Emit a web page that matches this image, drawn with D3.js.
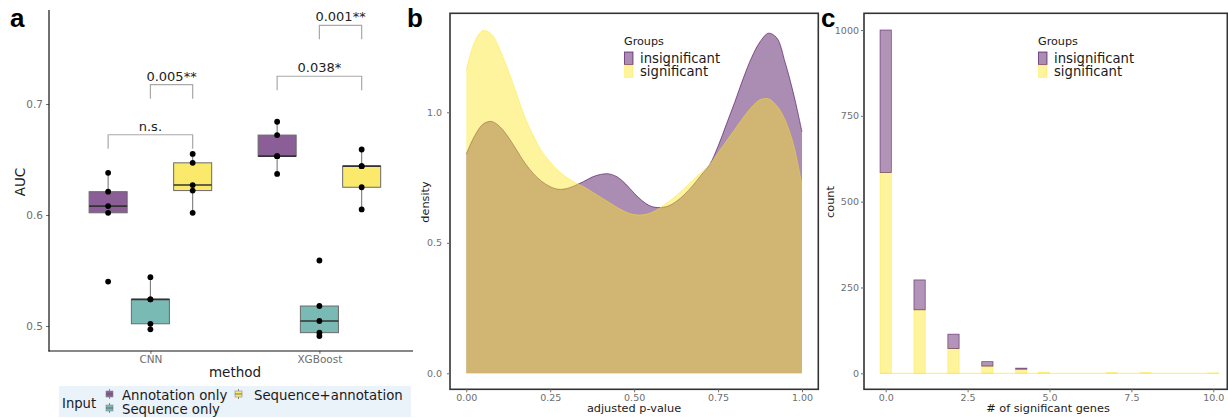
<!DOCTYPE html>
<html><head><meta charset="utf-8">
<script src="https://cdn.jsdelivr.net/npm/d3@7"></script>
<style>
body{margin:0;background:#fff}
svg{display:block}
text{font-family:"DejaVu Sans",sans-serif}
</style>
</head><body>
<svg id="chart" width="1228" height="418"></svg>
<script>
// ================= DATA =================
// Panel a: AUC box plots
const methods = ["CNN", "XGBoost"];
const inputs = ["Annotation only", "Sequence only", "Sequence+annotation"];
const aucCNNAnnotation = [0.540, 0.602, 0.608, 0.621, 0.638];
const aucCNNSequence = [0.497, 0.502, 0.524, 0.524, 0.544];
const aucCNNSeqAnnot = [0.602, 0.622, 0.627, 0.647, 0.655];
const aucXGBAnnotation = [0.637, 0.653, 0.653, 0.672, 0.684];
const aucXGBSequence = [0.491, 0.494, 0.5045, 0.518, 0.559];
const aucXGBSeqAnnot = [0.605, 0.625, 0.644, 0.644, 0.659];
const aucTicks = [0.5, 0.6, 0.7];
// significance brackets
const sigLabels = ["n.s.", "0.005**", "0.038*", "0.001**"];
const sigMethod = ["CNN", "CNN", "XGBoost", "XGBoost"];
const sigFrom = ["Annotation only", "Sequence only", "Annotation only", "Sequence only"];
const sigTo = ["Sequence+annotation", "Sequence+annotation", "Sequence+annotation", "Sequence+annotation"];
const sigLevel = [0.6723, 0.7174, 0.725, 0.7709];

// Panel b: density of adjusted p-values
const pvalGrid = [0, 0.025, 0.05, 0.075, 0.1, 0.125, 0.15, 0.175, 0.2, 0.225, 0.25, 0.275, 0.3, 0.325, 0.35, 0.375, 0.4, 0.425, 0.45, 0.475, 0.5, 0.525, 0.55, 0.575, 0.6, 0.625, 0.65, 0.675, 0.7, 0.725, 0.75, 0.775, 0.8, 0.825, 0.85, 0.875, 0.9, 0.925, 0.95, 0.975, 1];
const densityInsignificant = [0.84, 0.91, 0.955, 0.965, 0.945, 0.905, 0.855, 0.805, 0.765, 0.735, 0.715, 0.705, 0.708, 0.72, 0.735, 0.752, 0.762, 0.764, 0.752, 0.725, 0.69, 0.66, 0.64, 0.635, 0.64, 0.658, 0.685, 0.72, 0.76, 0.80, 0.87, 0.955, 1.04, 1.13, 1.21, 1.27, 1.303, 1.285, 1.19, 1.07, 0.925];
const densitySignificant = [1.16, 1.27, 1.313, 1.30, 1.24, 1.16, 1.07, 0.98, 0.91, 0.85, 0.81, 0.775, 0.75, 0.73, 0.715, 0.695, 0.675, 0.655, 0.635, 0.618, 0.608, 0.607, 0.615, 0.632, 0.655, 0.68, 0.71, 0.74, 0.77, 0.80, 0.845, 0.89, 0.935, 0.98, 1.02, 1.048, 1.052, 1.025, 0.97, 0.875, 0.72];
const densXTicks = [0, 0.25, 0.5, 0.75, 1];
const densYTicks = [0, 0.5, 1.0];

// Panel c: histogram of # significant genes
const geneNumbers = [0, 1, 2, 3, 4, 5, 6, 7, 8, 9, 10];
const countSignificant = [585, 185, 72, 21, 12, 3, 0, 2, 2, 0, 1];
const countInsignificant = [415, 87, 42, 13, 3, 0, 0, 0, 0, 0, 0];
const histXTicks = [0, 2.5, 5, 7.5, 10];
const histYTicks = [0, 250, 500, 750, 1000];
const groups = ["insignificant", "significant"];

// ================= DRAW =================
const svg = d3.select("#chart");
svg.append("rect").attr("width", 1228).attr("height", 418).attr("fill", "#fff");

const VIR_P = "#440154", VIR_T = "#21908C", VIR_Y = "#FDE725";
const boxFill = {"Annotation only": "#8b5e98", "Sequence only": "#79bab5", "Sequence+annotation": "#fbe96b"};
const TICK_COL = "#6e6e6e", TXT = "#1a1a1a";

function panelLetter(x, y, t) {
  svg.append("text").attr("x", x).attr("y", y).text(t)
    .style("font-family", "'Liberation Sans',Arial,sans-serif")
    .attr("font-weight", "bold").attr("font-size", 26).attr("fill", "#000");
}

// ---------- Panel a ----------
const gA = svg.append("g");
const xA = d3.scaleLinear().domain([0.4, 2.6]).range([49, 49 + 2.2 * 169]);
const methodPos = m => xA(methods.indexOf(m) + 1);
const dodge = d3.scaleBand().domain(inputs).range([-63.4, 63.4]);
const yA = d3.scaleLinear().domain([0.5, 0.7]).range([326, 104]);

const aucGroups = [
  {method: "CNN", input: "Annotation only", values: aucCNNAnnotation},
  {method: "CNN", input: "Sequence only", values: aucCNNSequence},
  {method: "CNN", input: "Sequence+annotation", values: aucCNNSeqAnnot},
  {method: "XGBoost", input: "Annotation only", values: aucXGBAnnotation},
  {method: "XGBoost", input: "Sequence only", values: aucXGBSequence},
  {method: "XGBoost", input: "Sequence+annotation", values: aucXGBSeqAnnot}
];
const cx = (m, inp) => methodPos(m) + dodge(inp) + dodge.bandwidth() / 2;
const boxW = dodge.bandwidth() * 0.9;

aucGroups.forEach(gr => {
  const v = gr.values.slice().sort(d3.ascending);
  const q1 = d3.quantile(v, 0.25), med = d3.quantile(v, 0.5), q3 = d3.quantile(v, 0.75);
  const iqr = q3 - q1;
  const lo = d3.min(v.filter(d => d >= q1 - 1.5 * iqr));
  const hi = d3.max(v.filter(d => d <= q3 + 1.5 * iqr));
  const c = cx(gr.method, gr.input);
  gA.append("line").attr("x1", c).attr("x2", c).attr("y1", yA(hi)).attr("y2", yA(q3))
    .attr("stroke", "#7a7a7a").attr("stroke-width", 1.1);
  gA.append("line").attr("x1", c).attr("x2", c).attr("y1", yA(q1)).attr("y2", yA(lo))
    .attr("stroke", "#7a7a7a").attr("stroke-width", 1.1);
  gA.append("rect").attr("x", c - boxW / 2).attr("y", yA(q3)).attr("width", boxW)
    .attr("height", Math.max(0.5, yA(q1) - yA(q3)))
    .attr("fill", boxFill[gr.input]).attr("stroke", "#6a6a6a").attr("stroke-width", 1);
  gA.append("line").attr("x1", c - boxW / 2).attr("x2", c + boxW / 2).attr("y1", yA(med)).attr("y2", yA(med))
    .attr("stroke", "#333").attr("stroke-width", 1.6);
  gA.selectAll(null).data(gr.values).enter().append("circle")
    .attr("cx", c).attr("cy", d => yA(d)).attr("r", 2.9).attr("fill", "#000");
});

// brackets
sigLabels.forEach((lab, i) => {
  const x1 = cx(sigMethod[i], sigFrom[i]), x2 = cx(sigMethod[i], sigTo[i]);
  const yt = yA(sigLevel[i]), yb = yt + 14;
  gA.append("path").attr("d", `M${x1},${yb}V${yt}H${x2}V${yb}`)
    .attr("fill", "none").attr("stroke", "#a9a9a9").attr("stroke-width", 1.2);
  gA.append("text").attr("x", (x1 + x2) / 2).attr("y", yt - 4).attr("text-anchor", "middle")
    .attr("font-size", 13).attr("fill", "#222").text(lab);
});

// axes
const axYA = gA.append("g").attr("transform", "translate(49,0)")
  .call(d3.axisLeft(yA).tickValues(aucTicks).tickSize(3).tickPadding(3).tickFormat(d3.format(".1f")));
axYA.select(".domain").remove();
axYA.selectAll("line").attr("stroke", TICK_COL);
axYA.selectAll("text").attr("font-size", 10.5).attr("fill", TICK_COL).style("font-family", "'DejaVu Sans'");
const xAPoint = d3.scalePoint().domain(methods).range([methodPos("CNN"), methodPos("XGBoost")]);
const axXA = gA.append("g").attr("transform", "translate(0,351)")
  .call(d3.axisBottom(xAPoint).tickSize(3).tickPadding(2));
axXA.select(".domain").remove();
axXA.selectAll("line").attr("stroke", TICK_COL);
axXA.selectAll("text").attr("font-size", 10.5).attr("fill", TICK_COL).style("font-family", "'DejaVu Sans'");
gA.append("line").attr("x1", 49).attr("x2", 49).attr("y1", 10).attr("y2", 351.5).attr("stroke", "#111").attr("stroke-width", 1.2);
gA.append("line").attr("x1", 48.5).attr("x2", 413).attr("y1", 351).attr("y2", 351).attr("stroke", "#111").attr("stroke-width", 1.2);
gA.append("text").attr("transform", "translate(25,182) rotate(-90)").attr("text-anchor", "middle")
  .attr("font-size", 13.5).attr("fill", TXT).text("AUC");
gA.append("text").attr("x", 235).attr("y", 377).attr("text-anchor", "middle")
  .attr("font-size", 13.5).attr("fill", TXT).text("method");

// legend a
gA.append("rect").attr("x", 59).attr("y", 386).attr("width", 352).attr("height", 31).attr("fill", "#eaf2fa");
gA.append("text").attr("x", 62).attr("y", 408).attr("font-size", 13.2).attr("fill", TXT).text("Input");
function keyGlyph(x, y, inp) {
  gA.append("line").attr("x1", x + 3.5).attr("x2", x + 3.5).attr("y1", y - 1).attr("y2", y + 9)
    .attr("stroke", "#888").attr("stroke-width", 1);
  gA.append("rect").attr("x", x).attr("y", y + 1).attr("width", 7).attr("height", 6)
    .attr("fill", boxFill[inp]).attr("stroke", "#888").attr("stroke-width", 0.6);
  gA.append("line").attr("x1", x).attr("x2", x + 7).attr("y1", y + 4).attr("y2", y + 4)
    .attr("stroke", "#555").attr("stroke-width", 0.8);
}
const legAx = [106, 106, 235];
const legAy = [390, 404, 390];
const legTx = [122, 122, 254];
const legTy = [399.5, 413.5, 399.5];
const legOrder = ["Annotation only", "Sequence only", "Sequence+annotation"];
legOrder.forEach((inp, i) => {
  keyGlyph(legAx[i], legAy[i], inp);
  gA.append("text").attr("x", legTx[i]).attr("y", legTy[i]).attr("font-size", 13.3).attr("fill", TXT).text(inp);
});
panelLetter(10, 27, "a");

// ---------- Panel b ----------
const gB = svg.append("g");
const xB = d3.scaleLinear().domain([0, 1]).range([466.3, 802]);
const yB = d3.scaleLinear().domain([0, 1]).range([373.3, 112.3]);
const densData = [
  {g: "insignificant", vals: densityInsignificant, col: VIR_P},
  {g: "significant", vals: densitySignificant, col: VIR_Y}
];
densData.forEach(d => {
  const pts = pvalGrid.map((x, i) => [x, d.vals[i]]);
  const area = d3.area().x(p => xB(p[0])).y0(yB(0)).y1(p => yB(p[1])).curve(d3.curveCatmullRom.alpha(0.5));
  const line = d3.line().x(p => xB(p[0])).y(p => yB(p[1])).curve(d3.curveCatmullRom.alpha(0.5));
  gB.append("path").attr("d", area(pts)).attr("fill", d.col).attr("fill-opacity", 0.45);
  gB.append("path").attr("d", line(pts)).attr("fill", "none").attr("stroke", d.col)
    .attr("stroke-opacity", d.g === "insignificant" ? 0.65 : 0.5).attr("stroke-width", 0.9);
});
gB.append("rect").attr("x", 450).attr("y", 13.3).attr("width", 368.3).attr("height", 376)
  .attr("fill", "none").attr("stroke", "#333").attr("stroke-width", 1.6);
const axYB = gB.append("g").attr("transform", "translate(450,0)")
  .call(d3.axisLeft(yB).tickValues(densYTicks).tickSize(3).tickPadding(5).tickFormat(d3.format(".1f")));
const axXB = gB.append("g").attr("transform", "translate(0,389.3)")
  .call(d3.axisBottom(xB).tickValues(densXTicks).tickSize(3).tickPadding(2).tickFormat(d3.format(".2f")));
[axYB, axXB].forEach(a => {
  a.select(".domain").remove();
  a.selectAll("line").attr("stroke", TICK_COL);
  a.selectAll("text").attr("font-size", 9.5).attr("fill", TICK_COL).style("font-family", "'DejaVu Sans'");
});
gB.append("text").attr("transform", "translate(429,202) rotate(-90)").attr("text-anchor", "middle")
  .attr("font-size", 11.3).attr("fill", TXT).text("density");
gB.append("text").attr("x", 634).attr("y", 412).attr("text-anchor", "middle")
  .attr("font-size", 11.3).attr("fill", TXT).text("adjusted p-value");
panelLetter(407, 27, "b");

// group legends
function groupLegend(g, x) {
  g.append("text").attr("x", x).attr("y", 45).attr("font-size", 11.2).attr("fill", TXT).text("Groups");
  const cols = [VIR_P, VIR_Y];
  groups.forEach((grp, i) => {
    g.append("rect").attr("x", x + 0.5).attr("y", 52 + i * 13).attr("width", 8.5).attr("height", 12.5)
      .attr("fill", cols[i]).attr("fill-opacity", 0.45)
      .attr("stroke", cols[i]).attr("stroke-opacity", i === 0 ? 0.7 : 0.4).attr("stroke-width", 0.9);
    g.append("text").attr("x", x + 16).attr("y", 62.5 + i * 13).attr("font-size", 13.2).attr("fill", TXT).text(grp);
  });
}
groupLegend(gB, 624);

// ---------- Panel c ----------
const gC = svg.append("g");
const xC = d3.scaleLinear().domain([0, 10]).range([885.7, 1213.3]);
const yC = d3.scaleLinear().domain([0, 1000]).range([373.3, 30]);
const nBins = 30, binW = 10 / (nBins - 1);
const binOf = v => Math.ceil(v / binW - 0.5);
const sigBins = new Array(nBins).fill(0), insBins = new Array(nBins).fill(0);
geneNumbers.forEach((v, i) => { sigBins[binOf(v)] += countSignificant[i]; insBins[binOf(v)] += countInsignificant[i]; });
// baseline of empty bins
gC.append("line").attr("x1", xC(-binW / 2)).attr("x2", xC(10 + binW / 2)).attr("y1", yC(0)).attr("y2", yC(0))
  .attr("stroke", VIR_Y).attr("stroke-opacity", 0.55).attr("stroke-width", 1.2);
for (let k = 0; k < nBins; k++) {
  const x0 = xC(k * binW - binW / 2), x1 = xC(k * binW + binW / 2);
  if (sigBins[k] > 0) {
    gC.append("rect").attr("x", x0).attr("y", yC(sigBins[k])).attr("width", x1 - x0).attr("height", yC(0) - yC(sigBins[k]))
      .attr("fill", VIR_Y).attr("fill-opacity", 0.45).attr("stroke", VIR_Y).attr("stroke-opacity", 0.5).attr("stroke-width", 0.8);
  }
  if (insBins[k] > 0) {
    const top = sigBins[k] + insBins[k];
    gC.append("rect").attr("x", x0).attr("y", yC(top)).attr("width", x1 - x0).attr("height", yC(sigBins[k]) - yC(top))
      .attr("fill", VIR_P).attr("fill-opacity", 0.42).attr("stroke", VIR_P).attr("stroke-opacity", 0.6).attr("stroke-width", 0.8);
  }
}
gC.append("rect").attr("x", 864).attr("y", 13.3).attr("width", 363.3).attr("height", 376)
  .attr("fill", "none").attr("stroke", "#333").attr("stroke-width", 1.6);
const axYC = gC.append("g").attr("transform", "translate(864,0)")
  .call(d3.axisLeft(yC).tickValues(histYTicks).tickSize(3).tickPadding(2).tickFormat(d3.format("d")));
const axXC = gC.append("g").attr("transform", "translate(0,389.3)")
  .call(d3.axisBottom(xC).tickValues(histXTicks).tickSize(3).tickPadding(2).tickFormat(d3.format(".1f")));
[axYC, axXC].forEach(a => {
  a.select(".domain").remove();
  a.selectAll("line").attr("stroke", TICK_COL);
  a.selectAll("text").attr("font-size", 9.5).attr("fill", TICK_COL).style("font-family", "'DejaVu Sans'");
});
gC.append("text").attr("transform", "translate(834,202) rotate(-90)").attr("text-anchor", "middle")
  .attr("font-size", 11.3).attr("fill", TXT).text("count");
gC.append("text").attr("x", 1048).attr("y", 412).attr("text-anchor", "middle")
  .attr("font-size", 11.3).attr("fill", TXT).text("# of significant genes");
groupLegend(gC, 1038);
panelLetter(821, 27, "c");
</script>
</body></html>
